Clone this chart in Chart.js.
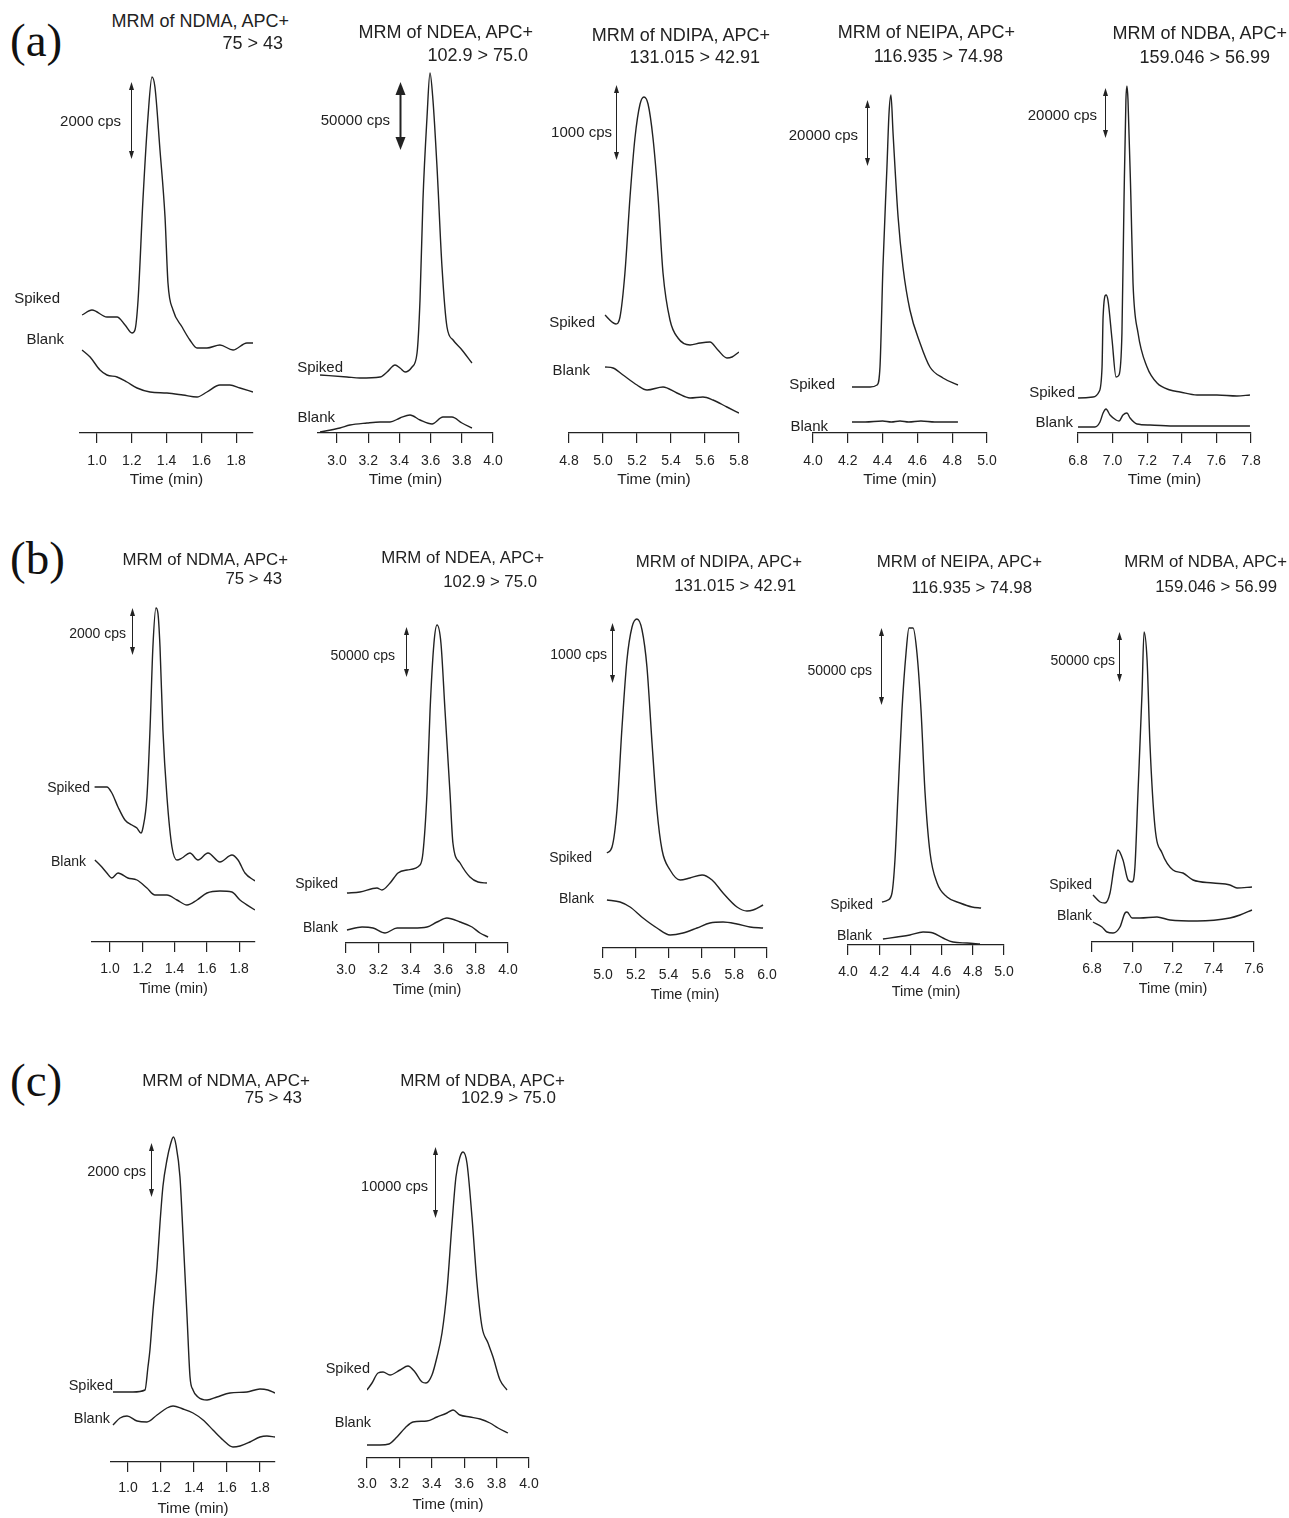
<!DOCTYPE html>
<html>
<head>
<meta charset="utf-8">
<script src="https://cdn.jsdelivr.net/npm/chart.js@4.4.1/dist/chart.umd.min.js"></script>
<style>
body { margin: 0; background: #fff; }
#fig { position: relative; width: 1289px; height: 1518px; overflow: hidden; font-family: "Liberation Sans", Arial, sans-serif; color: #222; }
#fig canvas { position: absolute; }
.t { position: absolute; white-space: nowrap; transform: translateY(-50%); line-height: 1; }
.pl { position: absolute; left: 10px; font-family: "Liberation Serif", "Times New Roman", serif; font-size: 47px; transform: translateY(-50%); line-height: 1; color: #111; }
</style>
</head>
<body>
<div id="fig"></div>
<script>
// time (min) , relative response (traces offset as in the original figure)

// (a)
var a_ndma_spiked = [[0.914,118],[0.971,123],[1.057,116],[1.115,116],[1.161,108],[1.201,100],[1.218,103],[1.236,133],[1.264,233],[1.293,316],[1.316,356],[1.333,346],[1.362,283],[1.391,216],[1.408,150],[1.437,123],[1.489,106],[1.534,93],[1.575,85],[1.632,85],[1.707,88],[1.782,83],[1.862,90],[1.897,90]];
var a_ndma_blank = [[0.914,83],[0.960,76],[1.017,63],[1.057,58],[1.115,56],[1.172,51],[1.230,45],[1.305,41],[1.402,40],[1.494,38],[1.575,36],[1.632,41],[1.707,48],[1.764,48],[1.822,45],[1.897,41]];

var a_ndea_spiked = [[2.891,58],[3.064,56],[3.147,55],[3.276,56],[3.321,61],[3.372,68],[3.404,65],[3.436,61],[3.481,66],[3.513,80],[3.532,133],[3.551,233],[3.577,316],[3.596,360],[3.615,333],[3.641,266],[3.673,166],[3.705,106],[3.744,93],[3.801,83],[3.865,70]];
var a_ndea_blank = [[2.891,1],[3.019,5],[3.083,8],[3.192,10],[3.276,11],[3.340,11],[3.404,15],[3.468,18],[3.532,13],[3.609,9],[3.679,16],[3.737,16],[3.801,10],[3.865,5]];

var a_ndipa_spiked = [[5.012,118],[5.053,111],[5.076,109],[5.100,116],[5.129,160],[5.159,236],[5.188,295],[5.218,329],[5.241,336],[5.265,329],[5.294,295],[5.324,236],[5.353,160],[5.394,113],[5.441,95],[5.512,88],[5.571,90],[5.629,91],[5.676,83],[5.729,75],[5.759,76],[5.800,81]];
var a_ndipa_blank = [[5.012,66],[5.059,65],[5.118,58],[5.200,48],[5.259,43],[5.353,46],[5.435,40],[5.512,35],[5.588,36],[5.647,33],[5.729,26],[5.800,20]];

var a_neipa_spiked = [[4.224,46],[4.328,46],[4.368,48],[4.385,66],[4.402,166],[4.425,266],[4.437,320],[4.448,338],[4.460,300],[4.489,216],[4.517,166],[4.557,123],[4.615,90],[4.672,66],[4.747,55],[4.833,48]];
var a_neipa_blank = [[4.224,11],[4.300,11],[4.400,12],[4.450,11],[4.500,12],[4.550,11],[4.620,12],[4.700,11],[4.833,11]];

var a_ndba_spiked = [[6.800,35],[6.887,36],[6.921,41],[6.939,66],[6.945,116],[6.962,138],[6.973,133],[6.997,93],[7.020,56],[7.037,58],[7.054,100],[7.066,233],[7.077,333],[7.083,347],[7.089,333],[7.106,233],[7.118,150],[7.147,100],[7.199,66],[7.257,50],[7.332,43],[7.390,41],[7.488,38],[7.603,38],[7.719,37],[7.794,38]];
var a_ndba_blank = [[6.800,6],[6.898,6],[6.927,11],[6.945,20],[6.962,24],[6.985,18],[7.020,13],[7.037,12],[7.060,18],[7.083,20],[7.101,15],[7.141,9],[7.216,8],[7.372,7],[7.794,7]];

// (b)
var b_ndma_spiked = [[0.905,155],[0.981,155],[1.012,149],[1.050,135],[1.093,122],[1.136,117],[1.167,114],[1.192,109],[1.204,114],[1.229,145],[1.248,212],[1.266,295],[1.285,334],[1.297,329],[1.310,295],[1.328,212],[1.353,145],[1.384,95],[1.415,82],[1.446,84],[1.495,89],[1.545,82],[1.607,89],[1.681,80],[1.755,87],[1.793,82],[1.836,69],[1.898,61]];
var b_ndma_blank = [[0.907,82],[0.950,75],[0.981,69],[1.012,64],[1.050,69],[1.111,64],[1.167,62],[1.229,54],[1.279,47],[1.353,47],[1.415,42],[1.477,37],[1.539,42],[1.601,49],[1.681,51],[1.755,50],[1.805,42],[1.898,32]];

var b_ndea_spiked = [[3.006,50],[3.086,51],[3.191,55],[3.222,53],[3.272,60],[3.321,70],[3.377,73],[3.457,78],[3.475,90],[3.500,150],[3.519,233],[3.543,300],[3.562,318],[3.586,300],[3.611,233],[3.642,150],[3.660,100],[3.704,80],[3.765,66],[3.815,61],[3.870,60]];
var b_ndea_blank = [[3.006,13],[3.099,16],[3.167,15],[3.241,10],[3.315,15],[3.414,15],[3.500,16],[3.562,21],[3.623,25],[3.704,21],[3.778,16],[3.827,10],[3.877,6]];

var b_ndipa_spiked = [[5.024,95],[5.055,101],[5.085,138],[5.116,221],[5.146,288],[5.177,321],[5.207,329],[5.238,318],[5.268,281],[5.299,205],[5.329,138],[5.360,98],[5.409,78],[5.470,68],[5.530,70],[5.604,73],[5.665,68],[5.732,55],[5.817,41],[5.878,37],[5.915,38],[5.976,43]];
var b_ndipa_blank = [[5.024,48],[5.104,46],[5.165,41],[5.244,30],[5.329,20],[5.409,13],[5.488,15],[5.573,20],[5.652,25],[5.732,26],[5.817,24],[5.896,21],[5.976,20]];

var b_neipa_spiked = [[4.218,43],[4.256,45],[4.282,52],[4.301,85],[4.321,152],[4.346,235],[4.372,292],[4.391,317],[4.417,317],[4.442,292],[4.468,235],[4.494,152],[4.526,92],[4.571,62],[4.635,48],[4.718,42],[4.795,38],[4.853,37]];
var b_neipa_blank = [[4.224,6],[4.314,8],[4.397,10],[4.481,13],[4.545,12],[4.609,7],[4.673,3],[4.763,2],[4.846,1]];

var b_ndba_spiked = [[6.805,47],[6.840,40],[6.864,39],[6.889,49],[6.909,75],[6.928,92],[6.953,82],[6.978,62],[6.998,60],[7.012,75],[7.027,149],[7.047,249],[7.057,310],[7.072,282],[7.086,199],[7.111,115],[7.146,89],[7.200,72],[7.249,69],[7.299,62],[7.398,59],[7.481,57],[7.516,54],[7.590,55]];
var b_ndba_blank = [[6.805,20],[6.849,15],[6.874,10],[6.904,9],[6.938,15],[6.963,29],[6.973,30],[6.998,24],[7.037,24],[7.121,25],[7.185,22],[7.319,21],[7.481,24],[7.531,27],[7.590,32]];

// (c)
var c_ndma_spiked = [[0.909,70],[1.030,70],[1.103,72],[1.121,95],[1.133,112],[1.152,152],[1.176,195],[1.194,239],[1.212,276],[1.236,302],[1.258,318],[1.275,325],[1.291,317],[1.315,285],[1.333,229],[1.358,145],[1.376,85],[1.394,72],[1.424,65],[1.479,62],[1.539,65],[1.618,69],[1.721,70],[1.800,73],[1.848,72],[1.891,69]];
var c_ndma_blank = [[0.909,37],[0.952,44],[0.994,46],[1.055,41],[1.115,40],[1.176,47],[1.236,54],[1.273,56],[1.333,53],[1.394,49],[1.455,42],[1.515,32],[1.576,22],[1.636,15],[1.679,16],[1.739,20],[1.800,25],[1.842,26],[1.891,25]];

var c_ndba_spiked = [[3.000,68],[3.031,75],[3.068,85],[3.099,86],[3.142,83],[3.204,88],[3.253,92],[3.296,86],[3.340,76],[3.364,75],[3.401,83],[3.432,101],[3.463,125],[3.494,168],[3.525,235],[3.549,281],[3.574,301],[3.593,306],[3.617,295],[3.648,241],[3.679,175],[3.710,131],[3.747,115],[3.778,101],[3.821,78],[3.864,68]];
var c_ndba_blank = [[3.000,13],[3.080,13],[3.136,14],[3.185,21],[3.235,30],[3.284,36],[3.370,37],[3.432,41],[3.494,45],[3.531,48],[3.574,43],[3.636,41],[3.698,39],[3.759,35],[3.809,30],[3.870,25]];

// tick labels
var ticks_1 = [1.0, 1.2, 1.4, 1.6, 1.8];
var ticks_3 = [3.0, 3.2, 3.4, 3.6, 3.8, 4.0];
var ticks_48 = [4.8, 5.0, 5.2, 5.4, 5.6, 5.8];
var ticks_4 = [4.0, 4.2, 4.4, 4.6, 4.8, 5.0];
var ticks_5 = [5.0, 5.2, 5.4, 5.6, 5.8, 6.0];
var ticks_68 = [6.8, 7.0, 7.2, 7.4, 7.6, 7.8];
var ticks_68b = [6.8, 7.0, 7.2, 7.4, 7.6];

var W = 1289, PADX = 24, YSPAN = 400, AXIS_H = 60;
var FONT = '"Liberation Sans", Arial, sans-serif';
var rows = {
    a: {title: 18, label: 15, axisTitle: 15.5, tickPad: 10},
    b: {title: 16.8, label: 14, axisTitle: 14.5, tickPad: 9},
    c: {title: 17, label: 14.5, axisTitle: 15, tickPad: 8}
};

// layout of each panel (pixel frame of the axis line, text anchors)
var panels = [
    {row:'a', spiked:a_ndma_spiked, blank:a_ndma_blank, ticks:ticks_1, xMin:0.902, xMax:1.897, left:80, right:253, axisY:433,
     title:['MRM of NDMA, APC+', 289, 21, '75 > 43', 283, 43], sp:[60,297], bl:[64,338], cps:['2000 cps',121,120],
     arrow:{x:1.195, top:351, bottom:274}},
    {row:'a', spiked:a_ndea_spiked, blank:a_ndea_blank, ticks:ticks_3, xMin:2.878, xMax:4.0, left:318, right:493, axisY:433,
     title:['MRM of NDEA, APC+', 533, 32, '102.9 > 75.0', 528, 55], sp:[343,366], bl:[335,416], cps:['50000 cps',390,119],
     arrow:{x:3.404, top:351, bottom:283, bold:true}},
    {row:'a', spiked:a_ndipa_spiked, blank:a_ndipa_blank, ticks:ticks_48, xMin:4.8, xMax:5.8, left:569, right:739, axisY:433,
     title:['MRM of NDIPA, APC+', 770, 35, '131.015 > 42.91', 760, 57], sp:[595,321], bl:[590,369], cps:['1000 cps',612,131],
     arrow:{x:5.076, top:348, bottom:273}},
    {row:'a', spiked:a_neipa_spiked, blank:a_neipa_blank, ticks:ticks_4, xMin:4.0, xMax:5.0, left:813, right:987, axisY:433,
     title:['MRM of NEIPA, APC+', 1015, 32, '116.935 > 74.98', 1003, 56], sp:[835,383], bl:[828,425], cps:['20000 cps',858,134],
     arrow:{x:4.310, top:333, bottom:267}},
    {row:'a', spiked:a_ndba_spiked, blank:a_ndba_blank, ticks:ticks_68, xMin:6.8, xMax:7.8, left:1078, right:1251, axisY:433,
     title:['MRM of NDBA, APC+', 1287, 33, '159.046 > 56.99', 1270, 57], sp:[1075,391], bl:[1073,421], cps:['20000 cps',1097,114],
     arrow:{x:6.956, top:345, bottom:295}},

    {row:'b', spiked:b_ndma_spiked, blank:b_ndma_blank, ticks:ticks_1, xMin:0.889, xMax:1.898, left:92, right:255, axisY:942,
     title:['MRM of NDMA, APC+', 288, 560, '75 > 43', 282, 579], sp:[90,787], bl:[86,861], cps:['2000 cps',126,633],
     arrow:{x:1.136, top:334, bottom:287}},
    {row:'b', spiked:b_ndea_spiked, blank:b_ndea_blank, ticks:ticks_3, xMin:3.0, xMax:4.0, left:346, right:508, axisY:943,
     title:['MRM of NDEA, APC+', 544, 558, '102.9 > 75.0', 537, 582], sp:[338,883], bl:[338,927], cps:['50000 cps',395,655],
     arrow:{x:3.370, top:316, bottom:266}},
    {row:'b', spiked:b_ndipa_spiked, blank:b_ndipa_blank, ticks:ticks_5, xMin:5.0, xMax:6.0, left:603, right:767, axisY:948,
     title:['MRM of NDIPA, APC+', 802, 562, '131.015 > 42.91', 796, 586], sp:[592,857], bl:[594,898], cps:['1000 cps',607,654],
     arrow:{x:5.055, top:325, bottom:265}},
    {row:'b', spiked:b_neipa_spiked, blank:b_neipa_blank, ticks:ticks_4, xMin:4.0, xMax:5.0, left:848, right:1004, axisY:945,
     title:['MRM of NEIPA, APC+', 1042, 562, '116.935 > 74.98', 1032, 588], sp:[873,904], bl:[872,935], cps:['50000 cps',872,670],
     arrow:{x:4.212, top:317, bottom:240}},
    {row:'b', spiked:b_ndba_spiked, blank:b_ndba_blank, ticks:ticks_68b, xMin:6.8, xMax:7.6, left:1092, right:1254, axisY:942,
     title:['MRM of NDBA, APC+', 1287, 562, '159.046 > 56.99', 1277, 587], sp:[1092,884], bl:[1092,915], cps:['50000 cps',1115,660],
     arrow:{x:6.933, top:310, bottom:260}},

    {row:'c', spiked:c_ndma_spiked, blank:c_ndma_blank, ticks:ticks_1, xMin:0.897, xMax:1.891, left:111, right:275, axisY:1462,
     title:['MRM of NDMA, APC+', 310, 1080, '75 > 43', 302, 1097], sp:[113,1385], bl:[110,1418], cps:['2000 cps',146,1171],
     arrow:{x:1.139, top:319, bottom:265}},
    {row:'c', spiked:c_ndba_spiked, blank:c_ndba_blank, ticks:ticks_3, xMin:3.0, xMax:4.0, left:367, right:529, axisY:1458,
     title:['MRM of NDBA, APC+', 565, 1080, '102.9 > 75.0', 556, 1097], sp:[370,1368], bl:[371,1422], cps:['10000 cps',428,1186],
     arrow:{x:3.420, top:311, bottom:240}}
];

var fig = document.getElementById('fig');

function put(txt, endX, cy, size) {
    var d = document.createElement('div');
    d.className = 't';
    d.textContent = txt;
    d.style.right = (W - endX) + 'px';
    d.style.top = cy + 'px';
    d.style.fontSize = size + 'px';
    fig.appendChild(d);
}

[['(a)', 40], ['(b)', 558], ['(c)', 1080]].forEach(function (l) {
    var d = document.createElement('div');
    d.className = 'pl';
    d.textContent = l[0];
    d.style.top = l[1] + 'px';
    fig.appendChild(d);
});

// double-headed scale bar ("cps" arrow)
var cpsArrow = {
    id: 'cpsArrow',
    afterDatasetsDraw: function (chart, args, opts) {
        if (opts.x === undefined) return;
        var ctx = chart.ctx;
        var px = Math.round(chart.scales.x.getPixelForValue(opts.x)) + 0.5;
        var y0 = chart.scales.y.getPixelForValue(opts.top);
        var y1 = chart.scales.y.getPixelForValue(opts.bottom);
        var hw = opts.bold ? 5 : 2.5, hl = opts.bold ? 13 : 8;
        ctx.save();
        ctx.strokeStyle = '#222';
        ctx.fillStyle = '#222';
        ctx.lineWidth = opts.bold ? 2 : 1;
        ctx.beginPath();
        ctx.moveTo(px, y0 + hl - 1);
        ctx.lineTo(px, y1 - hl + 1);
        ctx.stroke();
        ctx.beginPath();
        ctx.moveTo(px, y0); ctx.lineTo(px - hw, y0 + hl); ctx.lineTo(px + hw, y0 + hl);
        ctx.closePath(); ctx.fill();
        ctx.beginPath();
        ctx.moveTo(px, y1); ctx.lineTo(px - hw, y1 - hl); ctx.lineTo(px + hw, y1 - hl);
        ctx.closePath(); ctx.fill();
        ctx.restore();
    }
};

function toXY(arr) {
    return arr.map(function (p) { return {x: p[0], y: p[1]}; });
}

panels.forEach(function (p) {
    var st = rows[p.row];
    var cw = p.right - p.left + 2 * PADX, ch = YSPAN + AXIS_H;
    var cv = document.createElement('canvas');
    cv.width = cw; cv.height = ch;
    cv.style.width = cw + 'px'; cv.style.height = ch + 'px';
    cv.style.left = (p.left - PADX) + 'px';
    cv.style.top = (p.axisY - YSPAN) + 'px';
    fig.appendChild(cv);

    put(p.title[0], p.title[1], p.title[2], st.title);
    put(p.title[3], p.title[4], p.title[5], st.title);
    put('Spiked', p.sp[0], p.sp[1], st.label);
    put('Blank', p.bl[0], p.bl[1], st.label);
    put(p.cps[0], p.cps[1], p.cps[2], st.label);

    var line = {borderColor: '#222', borderWidth: 1.4, pointRadius: 0, fill: false, cubicInterpolationMode: 'monotone'};
    new Chart(cv, {
        type: 'line',
        data: {
            datasets: [
                Object.assign({label: 'Spiked', data: toXY(p.spiked)}, line),
                Object.assign({label: 'Blank', data: toXY(p.blank)}, line)
            ]
        },
        options: {
            responsive: false,
            animation: false,
            events: [],
            layout: {padding: {left: PADX, right: PADX, top: 0, bottom: 0}},
            plugins: {
                legend: {display: false},
                tooltip: {enabled: false},
                cpsArrow: p.arrow
            },
            scales: {
                y: {display: false, min: 0, max: YSPAN},
                x: {
                    type: 'linear',
                    min: p.xMin,
                    max: p.xMax,
                    afterBuildTicks: function (s) {
                        s.ticks = p.ticks.map(function (v) { return {value: v}; });
                    },
                    afterFit: function (s) {
                        s.height = AXIS_H;
                        s.paddingLeft = 0;
                        s.paddingRight = 0;
                    },
                    ticks: {
                        autoSkip: false,
                        maxRotation: 0,
                        padding: st.tickPad,
                        color: '#222',
                        font: {family: FONT, size: 14},
                        callback: function (v) { return Number(v).toFixed(1); }
                    },
                    grid: {drawOnChartArea: false, tickLength: 10, color: '#222', lineWidth: 1.2},
                    border: {color: '#222', width: 1.2},
                    title: {
                        display: true,
                        text: 'Time (min)',
                        color: '#222',
                        font: {family: FONT, size: st.axisTitle},
                        padding: {top: 0, bottom: 4}
                    }
                }
            }
        },
        plugins: [cpsArrow]
    });
});
</script>
</body>
</html>
